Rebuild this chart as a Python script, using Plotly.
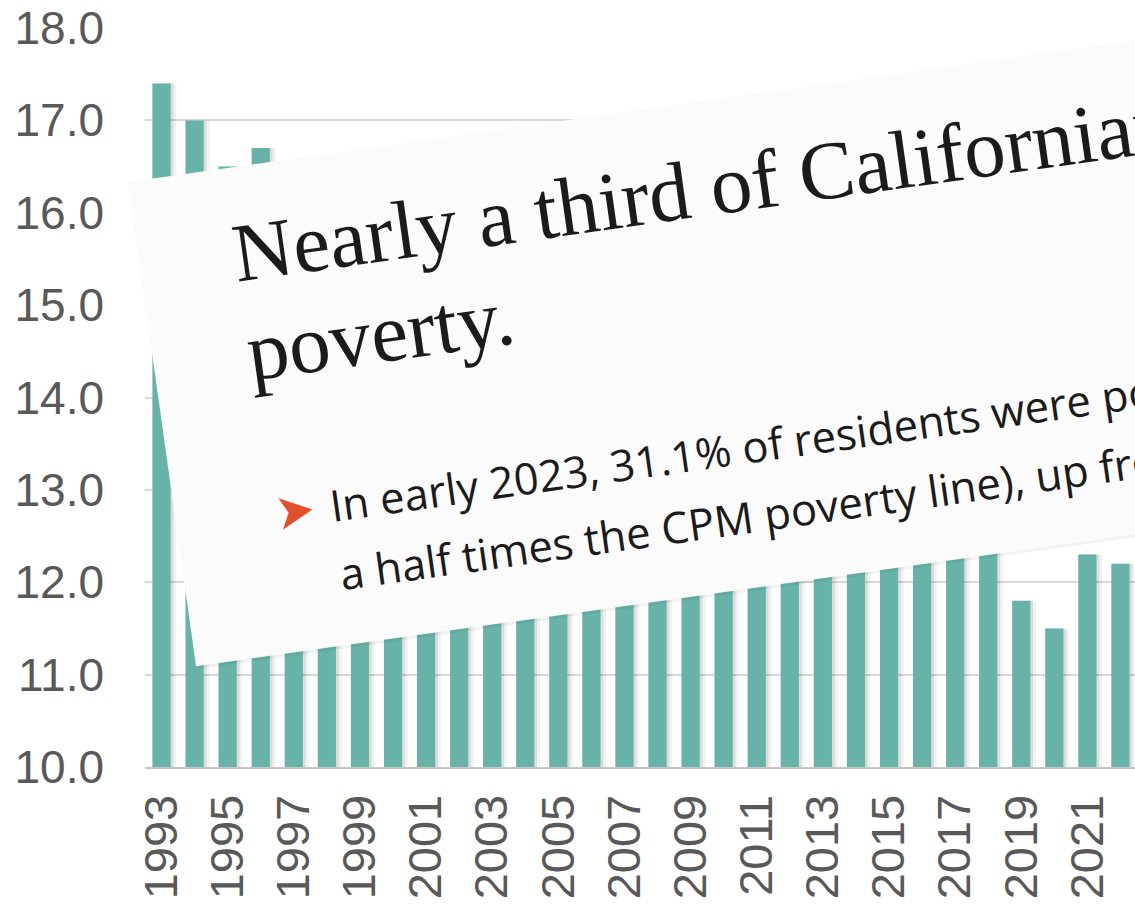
import math
import plotly.graph_objects as go

# ---- data -------------------------------------------------------------
years = list(range(1993, 2023))
rate = [17.4, 17.0, 16.5, 16.7, 16.0, 15.4, 14.2, 12.7, 12.9, 13.4,
        13.6, 13.3, 13.2, 12.5, 12.7, 13.3, 14.2, 15.8, 16.6, 16.5,
        16.0, 16.2, 15.0, 14.3, 13.3, 12.8, 11.8, 11.5, 12.3, 12.2]
tick_years = list(range(1993, 2022, 2))
tick_text = [str(y) for y in tick_years]
y_ticks = [10, 11, 12, 13, 14, 15, 16, 17, 18]

title_lines = ["Nearly a third of Californians live in or near",
               "poverty."]
body_lines = ["In early 2023, 31.1% of residents were poor or near poor (below one and",
              "a half times the CPM poverty line), up from the year before."]

# ---- page geometry ----------------------------------------------------
W, H = 1135, 904
ML, MR, MT, MB = 145, 0, 28, 137
PW, PH = W - ML - MR, H - MT - MB


def to_paper(px, py):
    return (px - ML) / PW, (H - MB - py) / PH


# the tilted clipping card: top-left corner and rotation
CARD_X0, CARD_Y0 = 128.0, 182.0
ANG = math.radians(8.0)
C, S = math.cos(ANG), math.sin(ANG)


def card_pt(u, v):
    """card-local (u along the top edge, v down the left edge) -> page px"""
    return CARD_X0 + u * C + v * S, CARD_Y0 - u * S + v * C


def path_from(points):
    parts = []
    for i, (u, v) in enumerate(points):
        px, py = card_pt(u, v)
        x, y = to_paper(px, py)
        parts.append(("M" if i == 0 else "L") + f"{x:.5f},{y:.5f}")
    return " ".join(parts) + " Z"


def card_text(text, u, v_base, size, family, asc, desc, color="#1b1b1b"):
    """left-anchored rotated annotation whose baseline starts at (u, v_base)"""
    pad = 2.0
    bl_u, bl_v = u - pad, v_base + desc * size + pad
    h = (asc + desc) * size + 2 * pad
    blx, bly = card_pt(bl_u, bl_v)
    left = blx - h * S
    x, y = to_paper(left, bly)
    return dict(text=text, x=x, y=y, xref="paper", yref="paper",
                xanchor="left", yanchor="bottom", showarrow=False,
                textangle=-8, align="left",
                font=dict(family=family, size=size, color=color))


fig = go.Figure()

# soft shadows to the right of each bar
fig.add_trace(go.Bar(x=years, y=rate, width=0.72, offset=-0.27,
                     marker=dict(color="rgba(0,0,0,0.05)", line=dict(width=0)),
                     hoverinfo="skip", showlegend=False))
fig.add_trace(go.Bar(x=years, y=rate, width=0.63, offset=-0.27,
                     marker=dict(color="rgba(0,0,0,0.09)", line=dict(width=0)),
                     hoverinfo="skip", showlegend=False))
# the bars
fig.add_trace(go.Bar(x=years, y=rate, width=0.55, offset=-0.275,
                     marker=dict(color="#68b3a7", line=dict(width=0)),
                     showlegend=False))

shapes = [
    dict(type="path", xref="paper", yref="paper", layer="above",
         path=path_from([(3, 3), (1400, 3), (1400, 492), (3, 492)]),
         fillcolor="rgba(0,0,0,0.05)", line=dict(width=0)),
    dict(type="path", xref="paper", yref="paper", layer="above",
         path=path_from([(0, 0), (1400, 0), (1400, 489), (0, 489)]),
         fillcolor="#fbfbfb", line=dict(width=0)),
    # red bullet arrowhead
    dict(type="path", xref="paper", yref="paper", layer="above",
         path=path_from([(137, 350), (105, 334), (113, 350), (105, 366)]),
         fillcolor="#e2502d", line=dict(width=0)),
]

annotations = [
    card_text(title_lines[0], 94, 114, 83, "Liberation Serif", 0.891, 0.216),
    card_text(title_lines[1], 94, 214, 83, "Liberation Serif", 0.891, 0.216),
    card_text(body_lines[0], 155, 365, 43.5, "Open Sans", 1.069, 0.293),
    card_text(body_lines[1], 155, 434, 43.5, "Open Sans", 1.069, 0.293),
]

fig.update_layout(
    width=W, height=H,
    margin=dict(l=ML, r=MR, t=MT, b=MB, pad=0, autoexpand=False),
    paper_bgcolor="white", plot_bgcolor="white",
    barmode="overlay",
    showlegend=False,
    shapes=shapes,
    annotations=annotations,
    font=dict(family="Liberation Sans, Arial, sans-serif", color="#595959"),
)
fig.update_xaxes(
    range=[1992.5, 2022.44], tickmode="array", tickvals=tick_years,
    ticktext=tick_text, tickangle=-90, tickfont=dict(size=47, color="#595959"),
    showgrid=False, zeroline=False, showline=True, linecolor="#c6c6c6",
    linewidth=2, ticks="", ticklabelstandoff=7, automargin=False,
)
fig.update_yaxes(
    range=[10, 18], tickmode="array", tickvals=y_ticks,
    ticktext=[f"{v:.1f}" for v in y_ticks], tickfont=dict(size=46, color="#595959"),
    showgrid=True, gridcolor="#d9d9d9", gridwidth=1.5, zeroline=False,
    showline=False, ticks="", ticklabelstandoff=40, automargin=False,
)

fig.write_html("out.html")
